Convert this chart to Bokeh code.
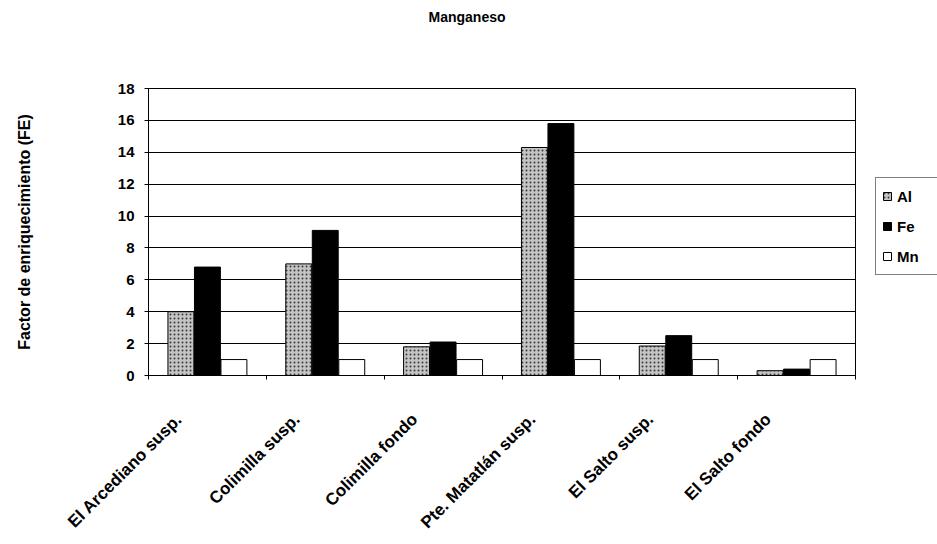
import math
from bokeh.plotting import figure
from bokeh.models import FixedTicker, Legend, LegendItem, Title, ColumnDataSource, Range1d
from bokeh.transform import dodge
from bokeh.embed import file_html
from bokeh.resources import INLINE

categories = ["El Arcediano susp.", "Colimilla susp.", "Colimilla fondo",
              "Pte. Matatlán susp.", "El Salto susp.", "El Salto fondo"]
al = [4.0, 7.0, 1.8, 14.3, 1.85, 0.3]
fe = [6.8, 9.1, 2.1, 15.8, 2.5, 0.4]
mn = [1.0, 1.0, 1.0, 1.0, 1.0, 1.0]
y_ticks = [0, 2, 4, 6, 8, 10, 12, 14, 16, 18]
title_text = "Manganeso"
y_title = "Factor de enriquecimiento (FE)"

FONT = "Liberation Sans"
LABEL_SHIFT = -0.24  # rotated category labels end slightly left of the group centre

xpos = [i + 0.5 for i in range(len(categories))]
label_pos = [x + LABEL_SHIFT for x in xpos]
src = ColumnDataSource(dict(x=xpos, al=al, fe=fe, mn=mn))

p = figure(frame_width=707, frame_height=287, min_border_left=148, min_border_top=88,
           min_border_bottom=161, min_border_right=82,
           x_range=Range1d(0, len(categories)), y_range=Range1d(0, 18),
           output_backend="svg", toolbar_location=None, title=None)

p.outline_line_color = "black"
p.outline_line_width = 1
p.background_fill_color = "white"
p.border_fill_color = "white"

# spacer title (closest to frame) then the real title above it
p.add_layout(Title(text=" ", text_font=FONT, text_font_size="42px"), "above")
p.add_layout(Title(text=title_text, align="left", offset=280, text_font=FONT,
                   text_font_size="14px", text_font_style="bold", text_color="black"), "above")

p.ygrid.ticker = FixedTicker(ticks=y_ticks)
p.ygrid.grid_line_color = "black"
p.ygrid.grid_line_width = 1
p.xgrid.grid_line_color = None

p.yaxis.ticker = FixedTicker(ticks=y_ticks)
p.yaxis.axis_label = y_title
p.yaxis.axis_label_text_font = FONT
p.yaxis.axis_label_text_font_size = "16px"
p.yaxis.axis_label_text_font_style = "bold"
p.yaxis.axis_label_text_color = "black"
p.yaxis.axis_label_standoff = 82
p.yaxis.major_label_text_font = FONT
p.yaxis.major_label_text_font_size = "15px"
p.yaxis.major_label_text_font_style = "bold"
p.yaxis.major_label_text_color = "black"
p.yaxis.major_label_standoff = 10
p.yaxis.major_tick_out = 4
p.yaxis.major_tick_in = 0
p.yaxis.major_tick_line_color = "black"
p.yaxis.minor_tick_line_color = None
p.yaxis.axis_line_color = "black"

p.xaxis.ticker = FixedTicker(ticks=label_pos, minor_ticks=list(range(len(categories) + 1)))
p.xaxis.major_label_overrides = {x: c for x, c in zip(label_pos, categories)}
p.xaxis.major_label_orientation = math.pi / 4
p.xaxis.major_label_text_font = FONT
p.xaxis.major_label_text_font_size = "17px"
p.xaxis.major_label_text_font_style = "bold"
p.xaxis.major_label_text_color = "black"
p.xaxis.major_label_standoff = 35
p.xaxis.major_tick_line_color = None
p.xaxis.minor_tick_out = 4
p.xaxis.minor_tick_in = 0
p.xaxis.minor_tick_line_color = "black"
p.xaxis.axis_line_color = "black"

w = 0.22
r_al = p.vbar(x=dodge("x", -0.225, range=p.x_range), top="al", width=w, source=src,
              fill_color="#c4c4c4", line_color="black", line_width=1,
              hatch_pattern=".", hatch_color="#3a3a3a", hatch_scale=4, hatch_weight=1)
r_fe = p.vbar(x=dodge("x", 0.0, range=p.x_range), top="fe", width=w, source=src,
              fill_color="black", line_color="black", line_width=1)
r_mn = p.vbar(x=dodge("x", 0.225, range=p.x_range), top="mn", width=w, source=src,
              fill_color="white", line_color="black", line_width=1)

legend = Legend(items=[LegendItem(label="Al", renderers=[r_al]),
                       LegendItem(label="Fe", renderers=[r_fe]),
                       LegendItem(label="Mn", renderers=[r_mn])],
                location=(20, 100), border_line_color="black", border_line_width=1,
                background_fill_color="white", background_fill_alpha=1.0,
                label_text_font=FONT, label_text_font_size="15px",
                label_text_font_style="bold", label_text_color="black",
                glyph_width=10, glyph_height=10,
                label_standoff=5, spacing=6, padding=6, margin=0,
                label_height=24, label_width=34)
p.add_layout(legend, "right")

open("out.html", "w").write(file_html(p, INLINE))
